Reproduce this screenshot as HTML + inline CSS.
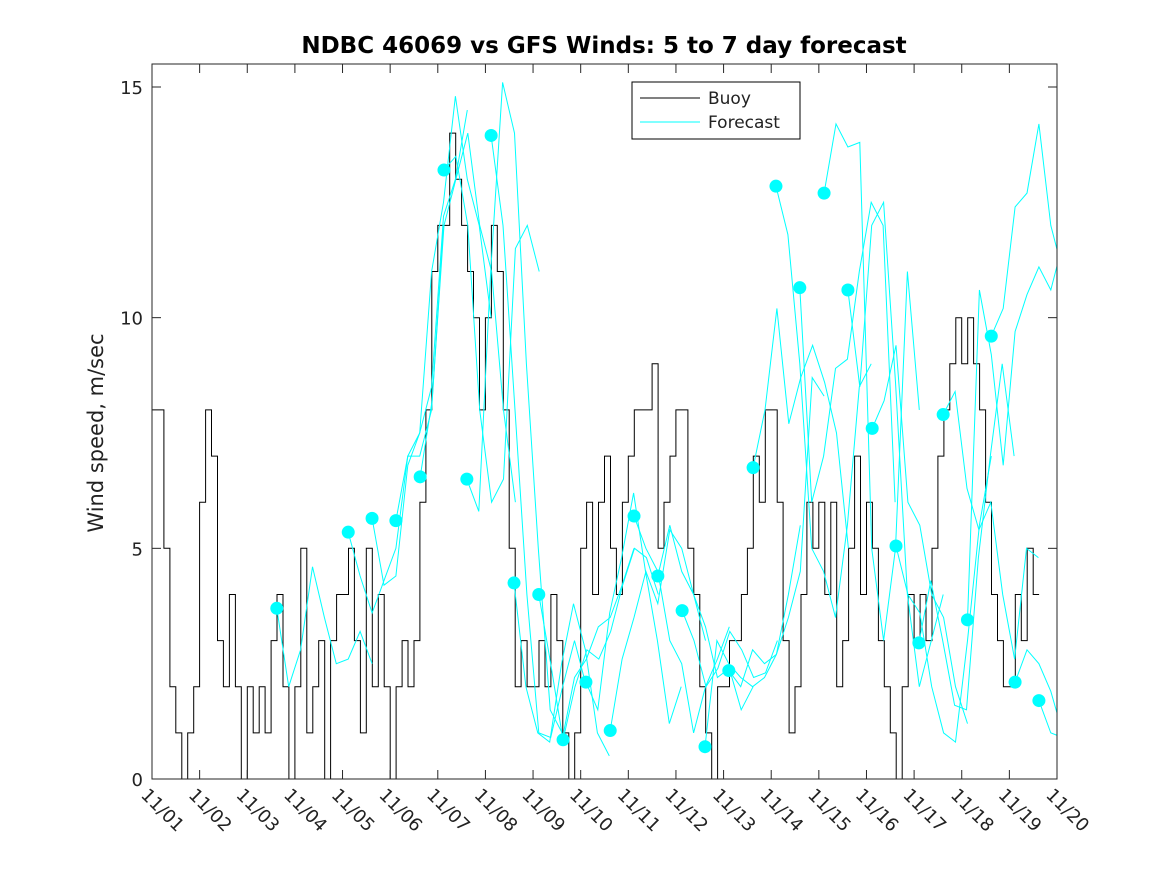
<!DOCTYPE html>
<html><head><meta charset="utf-8"><style>
html,body{margin:0;padding:0;background:#fff;}
svg text{font-family:"DejaVu Sans","Liberation Sans",sans-serif;}
</style></head><body>
<svg id="chart" width="1167" height="875" xmlns="http://www.w3.org/2000/svg">
<rect width="1167" height="875" fill="#fff"/>
<text x="604" y="53" text-anchor="middle" font-size="23" font-weight="bold" fill="#000">NDBC 46069 vs GFS Winds: 5 to 7 day forecast</text>
<text transform="translate(103,433) rotate(-90)" text-anchor="middle" font-size="21" fill="#222">Wind speed, m/sec</text>
<defs><clipPath id="pc"><rect x="152" y="64" width="905" height="715"/></clipPath></defs>
<g id="series" clip-path="url(#pc)"></g>
<g id="axes"></g>
<g>
<rect x="632" y="82" width="168" height="57" fill="#fff" stroke="#000" stroke-width="1"/>
<line x1="640" y1="98" x2="700" y2="98" stroke="#000"/>
<text x="708" y="104" font-size="17" fill="#222">Buoy</text>
<line x1="640" y1="122" x2="700" y2="122" stroke="#00ffff"/>
<text x="708" y="128" font-size="17" fill="#222">Forecast</text>
</g>
</svg>
<script>
const buoy = [
8,8,5,2,1,0,1,2,
6,8,7,3,2,4,2,0,
2,1,2,1,3,4,2,0,
2,5,1,2,3,0,3,4,
4,5,3,1,5,2,4,2,
0,2,3,2,3,6,8,11,
12,12,14,13,12,11,10,8,
10,12,11,8,5,2,3,2,
2,3,2,4,3,1,0,1,
5,6,4,6,7,5,4,6,
7,8,8,8,9,5,6,7,
8,8,5,4,2,1,0,2,
2,3,3,4,5,7,6,8,
8,6,3,1,2,4,6,5,
6,4,6,2,3,5,7,4,
6,5,3,2,1,0,2,4,
3,4,3,5,7,8,9,10,
9,10,9,8,6,4,3,2,
2,4,3,5,4];
const fcStart = [2.62,4.12,4.62,5.12,5.63,6.13,6.61,7.12,7.6,8.12,8.63,9.11,9.62,10.12,10.62,11.13,11.61,12.11,12.62,13.1,13.6,14.11,14.61,15.12,15.62,16.1,16.61,17.12,17.62,18.12,18.62];
const fcValues = [
[3.7,2,2.8,4.6,3.5,2.5,2.6,3.2,2.5],
[5.35,4.4,3.6,4.3,5,7,7,8,12],
[5.65,4.2,4.4,6.8,7.5,8.5,12.2,13,14.5],
[5.6,7,7.5,11,12.5,14.8,13,12,10],
[6.55,8.2,12,13,14,12,11,8,6],
[13.2,13.5,12,8,6,6.5,11.5,12,11],
[6.5,5.8,11,15.1,14,9,5,1.5,1],
[13.95,12,8,4,1,0.9,2,3,2],
[4.25,2,1,0.8,2.5,3.8,2.8,1,0.5],
[4.0,2.5,0.9,2.2,2.6,3.3,3.5,4.2,5],
[0.85,2,2.8,2.6,3.2,4.2,5,4.8,4],
[2.1,1.5,3.6,4.8,6.2,4.5,3,1.2,2],
[1.05,2.6,3.5,4.5,3.8,5.4,5,4,3],
[5.7,5,4.5,3,2.5,1,2,2.6,3.3],
[4.4,5.5,4.5,4,3.3,2.2,2.4,1.5,2],
[3.65,3,2,2.4,3.2,2.8,2.2,2.3,3],
[0.7,3,2.5,2.2,2,2.2,2.7,4,5.5],
[2.35,2,2.8,2.5,2.7,3.5,4.5,8.7,8.3],
[6.75,8,10.2,7.7,8.7,9.4,8.6,7.5,5],
[12.85,11.8,9,5,4.5,3.5,5.5,8.5,9],
[10.65,6,7,8.9,9.1,11,12.5,12,6],
[12.7,14.2,13.7,13.8,5,3,5,11,8],
[10.6,8.5,12,12.5,8.6,4,2,3,4],
[7.6,8.2,9.4,6,5.5,4,3.5,2,1.2],
[5.05,4,3.6,2,1,0.8,3,5.5,7],
[2.95,4.3,3,1.6,1.5,4.8,7,9,7],
[7.9,8.4,6.3,5.4,6,4,2.6,5,4.8],
[3.45,10.6,9.2,6.8,9.7,10.5,11.1,10.6,11.6],
[9.6,10.2,12.4,12.7,14.2,12,11,10,9],
[2.1,2.8,2.5,1.9,1.0,8.8,9,8,7],
[1.7,1,0.9,4,8.8,9,8,7,6]];
const xTickLabels = ["11/01","11/02","11/03","11/04","11/05","11/06","11/07","11/08","11/09","11/10","11/11","11/12","11/13","11/14","11/15","11/16","11/17","11/18","11/19","11/20"];
const yTicks = [0,5,10,15];

const X0=152,X1=1057,Y0=779,Y1=64;
const xs = d => X0 + d*(X1-X0)/19;
const ys = v => Y0 - v*(Y0-87)/15;
const NS="http://www.w3.org/2000/svg";
function mk(tag, attrs, parent){const e=document.createElementNS(NS,tag);for(const k in attrs)e.setAttribute(k,attrs[k]);parent.appendChild(e);return e;}
const series=document.getElementById('series'), axes=document.getElementById('axes');

let d="";
buoy.forEach((v,i)=>{const x0=xs(i/8),x1=xs((i+1)/8),y=ys(v);d+=(i===0?"M":"L")+x0.toFixed(1)+","+y.toFixed(1)+"L"+x1.toFixed(1)+","+y.toFixed(1);});
const bl=mk('path',{d:d,fill:'none',stroke:'#000','stroke-width':1},series);



fcValues.forEach((arr,k)=>{
  let p="";
  arr.forEach((v,i)=>{p+=(i===0?"M":"L")+xs(fcStart[k]+i*0.25).toFixed(1)+","+ys(v).toFixed(1);});
  const l=mk('path',{d:p,fill:'none',stroke:'#00ffff','stroke-width':1},series);
  
  
});
fcValues.forEach((arr,k)=>{
  const c=mk('circle',{cx:xs(fcStart[k]),cy:ys(arr[0]),r:6.5,fill:'#00ffff'},series);
  
  
});

mk('rect',{x:X0,y:Y1,width:X1-X0,height:Y0-Y1,fill:'none',stroke:'#262626','stroke-width':1},axes);
xTickLabels.forEach((t,i)=>{
  const x=xs(i);
  mk('line',{x1:x,y1:Y0,x2:x,y2:Y0-9,stroke:'#262626'},axes);
  mk('line',{x1:x,y1:Y1,x2:x,y2:Y1+9,stroke:'#262626'},axes);
  const tx=mk('text',{transform:`translate(${x-12},${796}) rotate(45)`,'font-size':18,fill:'#222'},axes);
  tx.textContent=t;
  
  
});
yTicks.forEach(v=>{
  const y=ys(v);
  mk('line',{x1:X0,y1:y,x2:X0+9,y2:y,stroke:'#262626'},axes);
  mk('line',{x1:X1,y1:y,x2:X1-9,y2:y,stroke:'#262626'},axes);
  const tx=mk('text',{x:X0-9,y:y+7,'text-anchor':'end','font-size':18,fill:'#222'},axes);
  tx.textContent=v;
  
  
});
</script>
</body></html>
